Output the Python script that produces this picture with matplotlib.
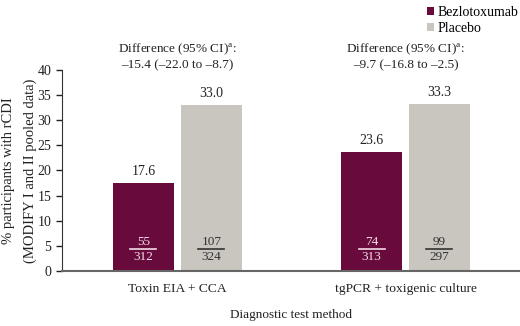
import matplotlib
matplotlib.use("Agg")
import matplotlib.pyplot as plt

plt.rcParams['font.family'] = ['Liberation Serif', 'DejaVu Serif']
plt.rcParams['mathtext.fontset'] = 'custom'
plt.rcParams['mathtext.rm'] = 'Liberation Serif'
plt.rcParams['mathtext.it'] = 'Liberation Serif:italic'

categories = ["Toxin EIA + CCA", "tgPCR + toxigenic culture"]
series_names = ["Bezlotoxumab", "Placebo"]
bezlo_vals = [17.6, 23.6]
placebo_vals = [33.0, 33.3]
bezlo_num = [55, 74]
bezlo_den = [312, 313]
placebo_num = [107, 99]
placebo_den = [324, 297]
differences = ["Difference (95% CI)$^{\\mathrm{a}}$:\n\u201315.4 (\u201322.0 to \u20138.7)",
               "Difference (95% CI)$^{\\mathrm{a}}$:\n\u20139.7 (\u201316.8 to \u20132.5)"]
yticks = [0, 5, 10, 15, 20, 25, 30, 35, 40]

c_bez = "#680A3B"
c_pla = "#C9C5BF"
c_txt = "#222222"

fig = plt.figure(figsize=(5.2, 3.26), dpi=100)
ax = fig.add_axes([0.119, 0.169, 0.881, 0.616])

w = 0.2675
off = 0.149
x = list(range(len(categories)))
xb = [i - off for i in x]
xp = [i + off for i in x]
ax.bar(xb, bezlo_vals, width=w, color=c_bez, label=series_names[0], zorder=2)
ax.bar(xp, placebo_vals, width=w, color=c_pla, label=series_names[1], zorder=2)

for i in x:
    for xx, v, n, d, tc in [(xb[i], bezlo_vals[i], bezlo_num[i], bezlo_den[i], "#F2DCE6"),
                            (xp[i], placebo_vals[i], placebo_num[i], placebo_den[i], "#333333")]:
        ax.text(xx, v + 1.0, f"{v:.1f}", ha="center", va="bottom", fontsize=10, color=c_txt)
        ax.text(xx, 4.6, str(n), ha="center", va="bottom", fontsize=9.5, color=tc)
        ax.text(xx, 4.0, str(d), ha="center", va="top", fontsize=9.5, color=tc)
        ax.plot([xx - 0.057, xx + 0.057], [4.3, 4.3], color=tc, lw=1.2, zorder=3)
    ax.text(i, 39.7, differences[i], ha="center", va="bottom", fontsize=9.5,
            color=c_txt, linespacing=1.3)

ax.set_xlim(-0.5066, 1.502)
ax.set_ylim(0, 40)
ax.set_yticks(yticks)
ax.set_xticks(x)
ax.set_xticklabels(categories, fontsize=9.7, color=c_txt)
ax.tick_params(axis='x', length=0, pad=9)
ax.tick_params(axis='y', labelsize=10, colors=c_txt, length=4, width=1)
for s in ["top", "right"]:
    ax.spines[s].set_visible(False)
ax.spines["left"].set_color("#333333")
ax.spines["bottom"].set_color("#666666")
ax.spines["bottom"].set_linewidth(1.5)
ax.set_xlabel("Diagnostic test method", fontsize=9.5, color=c_txt)
ax.set_ylabel("% participants with rCDI\n(MODIFY I and II pooled data)", fontsize=10.5,
              color=c_txt, linespacing=1.75)
ax.xaxis.set_label_coords(0.50, -0.19)
ax.yaxis.set_label_coords(-0.055, 0.5)

leg = fig.legend(loc="upper left", bbox_to_anchor=(0.81, 1.0), frameon=False,
                 fontsize=10, handlelength=0.5, handleheight=0.5, handletextpad=0.3,
                 labelspacing=0.25, borderaxespad=0)

fig.savefig("out.png", dpi=100)
